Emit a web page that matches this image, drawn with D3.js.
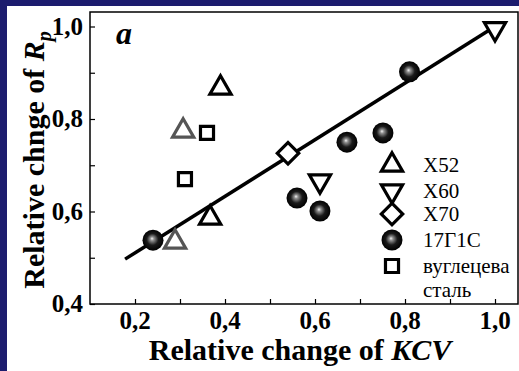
<!DOCTYPE html>
<html>
<head>
<meta charset="utf-8">
<script src="https://cdn.jsdelivr.net/npm/d3@7"></script>
<style>
  html, body { margin: 0; padding: 0; background: #1c1c6e; }
  #canvas { width: 519px; height: 371px; }
</style>
</head>
<body>
<div id="canvas"></div>
<script>
"use strict"

/* Drawing dimensions */
let svgWidth = 519;
let svgHeight = 371;
let plotLeft = 90, plotTop = 12, plotRight = 518, plotBottom = 304;
let serif = '"Liberation Serif"';

/* Data */
let x52 = [[0.39, 0.867], [0.367, 0.586]];
let x52Gray = [[0.307, 0.774], [0.289, 0.534]];
let x60 = [[1.0, 0.995], [0.611, 0.666]];
let x70 = [[0.54, 0.726]];
let steel17G1S = [[0.24, 0.538], [0.81, 0.902], [0.671, 0.75], [0.751, 0.77], [0.56, 0.629], [0.611, 0.601]];
let carbonSteel = [[0.36, 0.77], [0.311, 0.67]];
let fitLine = [[0.178, 0.497], [1.0, 1.0]];
let xTicks = [0.2, 0.4, 0.6, 0.8, 1.0];
let yTicks = [0.4, 0.6, 0.8, 1.0];
let legendLabels = ["X52", "X60", "X70", "17Г1С", "вуглецева"];

let svg = d3.select("#canvas")
    .append("svg")
    .attr("width", svgWidth)
    .attr("height", svgHeight);

/* white page inside the blue frame */
svg.append("rect")
    .attr("x", 7).attr("y", 6)
    .attr("width", svgWidth - 7).attr("height", svgHeight - 6)
    .attr("fill", "white");

let defs = svg.append("defs");
let grad = defs.append("radialGradient")
    .attr("id", "ball")
    .attr("cx", "50%").attr("cy", "50%").attr("r", "50%")
    .attr("fx", "45%").attr("fy", "42%");
grad.append("stop").attr("offset", "0%").attr("stop-color", "#f4f4f4");
grad.append("stop").attr("offset", "18%").attr("stop-color", "#909090");
grad.append("stop").attr("offset", "55%").attr("stop-color", "#1a1a1a");
grad.append("stop").attr("offset", "100%").attr("stop-color", "#000");

/* scales: 0.2 -> 135px, 1.0 -> 495px; 0.4 -> 304px, 1.0 -> 26.5px */
let xScale = d3.scaleLinear().domain([0.2, 1.0]).range([135, 495]);
let yScale = d3.scaleLinear().domain([0.4, 1.0]).range([304, 26.5]);

/* frame */
svg.append("rect")
    .attr("x", plotLeft).attr("y", plotTop)
    .attr("width", plotRight - plotLeft).attr("height", plotBottom - plotTop)
    .attr("fill", "none").attr("stroke", "black").attr("stroke-width", 1.5);

/* axes with inward ticks */
let xAxis = d3.axisBottom(xScale).tickValues(d3.range(0.2, 1.05, 0.1)).tickSize(-5).tickFormat("");
svg.append("g").attr("transform", `translate(0,${plotBottom})`).call(xAxis)
    .call(g => g.select(".domain").remove());
let yAxis = d3.axisLeft(yScale).tickValues(d3.range(0.4, 1.05, 0.1)).tickSize(-5).tickFormat("");
svg.append("g").attr("transform", `translate(${plotLeft},0)`).call(yAxis)
    .call(g => g.select(".domain").remove());
svg.selectAll(".tick line").attr("stroke", "black").attr("stroke-width", 1.2);

let fmt = d => d3.format(".1f")(d).replace(".", ",");
svg.selectAll(".xlab").data(xTicks).join("text")
    .attr("x", d => xScale(d)).attr("y", 329)
    .attr("text-anchor", "middle")
    .attr("font-family", serif)
    .attr("font-weight", "bold").attr("font-size", 25)
    .text(fmt);
svg.selectAll(".ylab").data(yTicks).join("text")
    .attr("x", 83).attr("y", d => yScale(d) + 8)
    .attr("text-anchor", "end")
    .attr("font-family", serif)
    .attr("font-weight", "bold").attr("font-size", 25)
    .text(fmt);

/* axis titles */
let xt = svg.append("text")
    .attr("x", 300).attr("y", 360)
    .attr("text-anchor", "middle")
    .attr("font-family", serif)
    .attr("font-weight", "bold").attr("font-size", 30);
xt.append("tspan").text("Relative change of ");
xt.append("tspan").attr("font-style", "italic").text("KCV");

let yt = svg.append("text")
    .attr("transform", "translate(44,160) rotate(-90)")
    .attr("text-anchor", "middle")
    .attr("font-family", serif)
    .attr("font-weight", "bold").attr("font-size", 30);
yt.append("tspan").text("Relative chnge of ");
yt.append("tspan").attr("font-style", "italic").text("R");
yt.append("tspan").attr("dy", 7).attr("font-style", "italic").attr("font-size", 20).text("p");

svg.append("text")
    .attr("x", 116).attr("y", 44)
    .attr("font-family", serif)
    .attr("font-style", "italic").attr("font-weight", "bold").attr("font-size", 32)
    .text("a");

/* fit line */
svg.append("path")
    .datum(fitLine)
    .attr("d", d3.line().x(d => xScale(d[0])).y(d => yScale(d[1])))
    .attr("stroke", "black").attr("stroke-width", 3.5).attr("fill", "none");

/* marker helpers */
let triUp = d3.symbol().type(d3.symbolTriangle).size(195);
let square = d3.symbol().type(d3.symbolSquare).size(170);
let diamond = d3.symbol().type(d3.symbolSquare).size(230);

function drawSymbols(data, path, rot, color) {
    svg.append("g").selectAll("path").data(data).join("path")
        .attr("d", path)
        .attr("transform", d => `translate(${xScale(d[0])},${yScale(d[1])}) rotate(${rot})`)
        .attr("fill", "white").attr("stroke", color).attr("stroke-width", 3.2)
        .attr("stroke-linejoin", "miter");
}

drawSymbols(x52Gray, triUp, 0, "#555");
drawSymbols(x52, triUp, 0, "black");
drawSymbols(x60, triUp, 180, "black");
drawSymbols(x70, diamond, 45, "black");
drawSymbols(carbonSteel, square, 0, "black");

svg.append("g").selectAll("circle").data(steel17G1S).join("circle")
    .attr("cx", d => xScale(d[0])).attr("cy", d => yScale(d[1]))
    .attr("r", 10.5)
    .attr("fill", "url(#ball)");

/* legend */
let legendY = [165, 191, 214, 240, 266];
let legendMarks = [
    { path: triUp, rot: 0 },
    { path: triUp, rot: 180 },
    { path: diamond, rot: 45 },
    null,
    { path: square, rot: 0 }
];
legendLabels.forEach((lab, i) => {
    let cx = 392, cy = legendY[i];
    let m = legendMarks[i];
    if (m) {
        svg.append("path")
            .attr("d", m.path)
            .attr("transform", `translate(${cx},${cy}) rotate(${m.rot})`)
            .attr("fill", "white").attr("stroke", "black").attr("stroke-width", 3.2);
    } else {
        svg.append("circle").attr("cx", cx).attr("cy", cy).attr("r", 10.5)
            .attr("fill", "url(#ball)");
    }
    svg.append("text")
        .attr("x", 423).attr("y", cy + 7)
        .attr("font-family", serif)
        .attr("font-size", 21)
        .text(lab);
});
svg.append("text")
    .attr("x", 423).attr("y", 297)
    .attr("font-family", serif)
    .attr("font-size", 21)
    .text("сталь");
</script>
</body>
</html>
